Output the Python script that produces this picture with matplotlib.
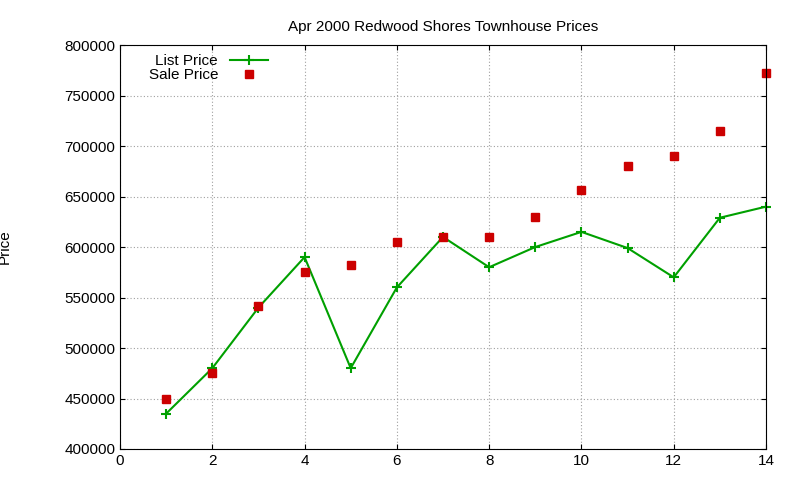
import matplotlib
matplotlib.use("Agg")
import matplotlib.pyplot as plt

x = list(range(1, 15))
list_price = [435000, 480000, 540000, 590000, 480000, 560000, 610000, 580000, 600000, 615000, 599000, 570000, 629000, 640000]
sale_price = [450000, 475000, 542000, 575000, 582000, 605000, 610000, 610000, 630000, 656000, 680000, 690000, 715000, 772000]

plt.rcParams['font.family'] = ['Liberation Sans', 'DejaVu Sans']
fig = plt.figure(figsize=(8, 4.8), dpi=100)
ax = fig.add_axes([0.15, 0.0646, 0.8075, 0.8415])
ax.plot(x, list_price, color='#00a000', marker='+', markersize=7, mew=1.5, lw=1.5, label='List Price', clip_on=False)
ax.plot(x, sale_price, ls='none', marker='s', color='#cc0000', markersize=5.5, label='Sale Price', clip_on=False)
ax.set_xlim(0, 14)
ax.set_ylim(400000, 800000)
ax.set_xticks(range(0, 15, 2))
ax.set_yticks(range(400000, 800001, 50000))
ax.tick_params(direction='in', labelsize=11, top=True, right=True)
ax.grid(True, color='#a0a0a0', ls=(0, (1, 2)), lw=0.8)
ax.set_title('Apr 2000 Redwood Shores Townhouse Prices', fontsize=11, pad=10)
ax.set_ylabel('Price', fontsize=11, labelpad=38)
ax.legend(loc='upper left', markerfirst=False, frameon=False, fontsize=11,
          handlelength=2.5, borderaxespad=0.2, labelspacing=0.0, bbox_to_anchor=(0.03, 1.0))
fig.savefig('out.png')
